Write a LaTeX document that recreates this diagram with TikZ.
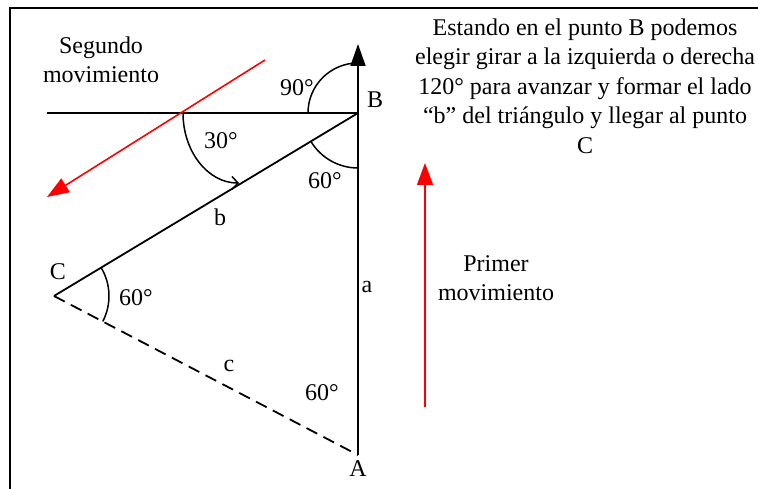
\documentclass[tikz,border=0pt]{standalone}
\usepackage{fontspec}
\setmainfont{Liberation Serif}
\usetikzlibrary{arrows.meta,calc}
\definecolor{movred}{HTML}{FF0000}

\begin{document}
\begin{tikzpicture}[
  x=1pt, y=1pt,
  font=\fontsize{24}{29.5}\selectfont,
  side/.style={line width=1.8pt, draw=black},
  dashside/.style={side, dash pattern=on 12pt off 7pt},
  anglearc/.style={line width=1.5pt, draw=black},
  move/.style={line width=1.6pt, draw=movred, -{Triangle[length=22pt,width=16pt]}},
  lbl/.style={inner sep=0pt, align=center}
]
  \useasboundingbox (0,0) rectangle (758,-489);
  \draw[line width=2pt] (758,-8.5) -- (10,-8.5) -- (10,-489);

  \coordinate (B) at (358,-113);
  \coordinate (A) at (358,-455);
  \coordinate (C) at (54,-296);
  \coordinate (top) at (358,-44);
  \coordinate (west) at (47,-113);
  \coordinate (cross) at (183,-113);

  % triangle
  \draw[side] (west) -- (B);
  \draw[side, -{Triangle[length=22pt,width=15pt]}] (A) -- (top);
  \draw[side] (B) -- (C);
  \draw[dashside] (C) -- (A);

  % angles
  \draw[anglearc] ($(B)+(-50,0)$) arc[start angle=180, end angle=90, radius=50];
  \draw[anglearc] ($(B)+(211:55)$) arc[start angle=211, end angle=270, radius=55];
  \draw[anglearc] ($(C)+(31:55)$) arc[start angle=31, end angle=-27.6, radius=55];
  \draw[anglearc, -{Straight Barb[length=6pt,width=13pt]}] (cross) arc[start angle=180, end angle=270, x radius=56, y radius=70];

  % movements
  \coordinate (s1) at (265,-60);
  \coordinate (s2) at (47,-197);
  \coordinate (p1) at (425,-407);
  \coordinate (p2) at (425,-163);
  \draw[move] (s1) -- (s2);
  \draw[move] (p1) -- (p2);

  \node[lbl] (segundo) at (101,-60) {Segundo\\movimiento};
  \node[lbl] (primer) at (496,-278) {Primer\\movimiento};
  \node[lbl] (info) at (585,-86) {Estando en el punto B podemos\\elegir girar a la izquierda o derecha\\120° para avanzar y formar el lado\\“b” del triángulo y llegar al punto\\C};

  \node[lbl] (labB) at (375,-100) {B};
  \node[lbl] (labA) at (358,-469) {A};
  \node[lbl] (labC) at (58,-272) {C};
  \node[lbl] (sidea) at (367,-287) {a};
  \node[lbl] (sideb) at (220,-217) {b};
  \node[lbl] (sidec) at (229,-366) {c};
  \node[lbl] (ang90) at (297,-88) {90°};
  \node[lbl] (ang30) at (221,-141) {30°};
  \node[lbl] (angB) at (325,-181) {60°};
  \node[lbl] (angC) at (136,-298) {60°};
  \node[lbl] (angA) at (322,-393) {60°};
\end{tikzpicture}
\end{document}
